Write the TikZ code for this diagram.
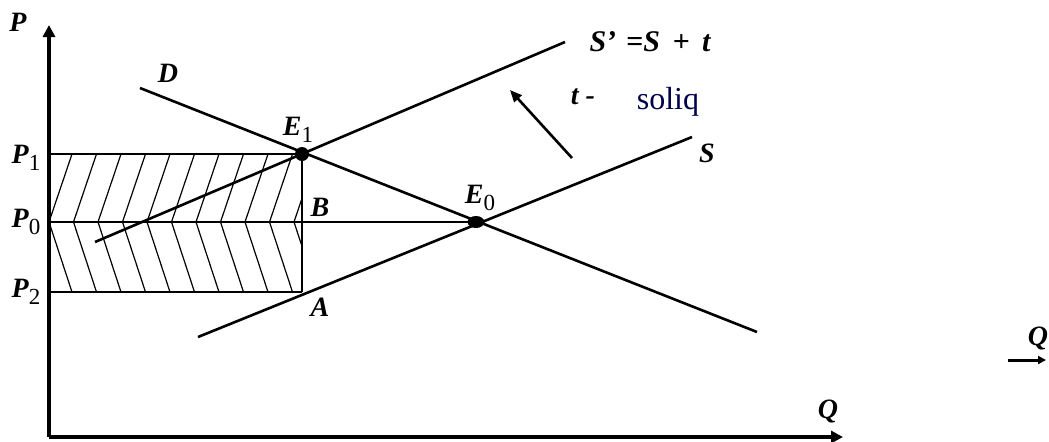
\documentclass[tikz,border=0pt]{standalone}
\usepackage{fontspec}
\setmainfont{Liberation Serif}
\usetikzlibrary{arrows.meta,shapes.geometric}
\newcommand{\lowsub}[1]{\raisebox{-0.5ex}{\upshape\mdseries\fontsize{11.5}{12}\selectfont #1}}
\begin{document}
\begin{tikzpicture}[x=0.5pt,y=-0.5pt,line width=1.3pt,
  lbl/.style={font=\fontsize{14}{16}\selectfont\bfseries\itshape,inner sep=0},
  dot/.style={circle,fill,inner sep=0,minimum size=7pt},
  axis/.style={line width=1.8pt,-{Triangle[length=6pt,width=6pt]}}]
\useasboundingbox (0,0) rectangle (1049,441);
% points
\coordinate (o) at (49,437);\coordinate (ptop) at (49,25);\coordinate (qend) at (843,437);
\coordinate (p1) at (49,154);\coordinate (p0) at (49,222);\coordinate (p2) at (49,292);
\coordinate (a) at (302,292);
\coordinate (d1) at (140,88);\coordinate (d2) at (757,332);
\coordinate (s1) at (198,337);\coordinate (s2) at (692,137);
\coordinate (t1) at (95,242);\coordinate (t2) at (565,42);
\coordinate (ar1) at (572,158);\coordinate (ar2) at (510,90);
\coordinate (q1) at (1008,360);\coordinate (q2) at (1046,360);
% hatching
\begin{scope}
\clip (p1) rectangle (a);
\foreach \i in {0,...,10}{\draw[line width=0.6pt](49+24.5*\i,222)--++(23,-68);\draw[line width=0.6pt](49+24.5*\i,222)--++(23,70);}
\end{scope}
\node[dot](e1)at(302,154){};\node[dot,ellipse,minimum width=8.5pt,minimum height=6pt](e0)at(476,222){};
% axes and curves
\draw[axis](o)--(ptop);\draw[axis](o)--(qend);
\draw(d1)--(d2);\draw(s1)--(s2);\draw(t1)--(t2);
\draw(p1)--(e1.center);\draw(p0)--(e0.center);\draw(p2)--(a);\draw(e1.center)--(a);
\draw[-{Triangle[length=6pt,width=5pt]}](ar1)--(ar2);
\draw[line width=1.5pt,-{Triangle[length=4pt,width=4pt]}](q1)--(q2);
% labels
\node[lbl](lp)at(18,22){P};
\node[lbl](lp1)at(26,158){P\lowsub{1}};
\node[lbl](lp0)at(26,222){P\lowsub{0}};
\node[lbl](lp2)at(26,292){P\lowsub{2}};
\node[lbl](ld)at(168,73){D};
\node[lbl](le1)at(298,130){E\lowsub{1}};
\node[lbl](le0)at(480,198){E\lowsub{0}};
\node[lbl](lb)at(320,207){B};
\node[lbl](la)at(320,307){A};
\node[lbl,font=\fontsize{15}{17}\selectfont\bfseries\itshape](lsp)at(650,42){S'\,\,=S\,~+~\,t};
\node[lbl](lt)at(583,97){t~-};
\node[font=\fontsize{16}{18}\selectfont,text=blue!30!black,inner sep=0](ls)at(668,102){soliq};
\node[lbl](lss)at(707,153){S};
\node[lbl](lq)at(828,411){Q};
\node[lbl](lq2)at(1038,338){Q};
\end{tikzpicture}
\end{document}
